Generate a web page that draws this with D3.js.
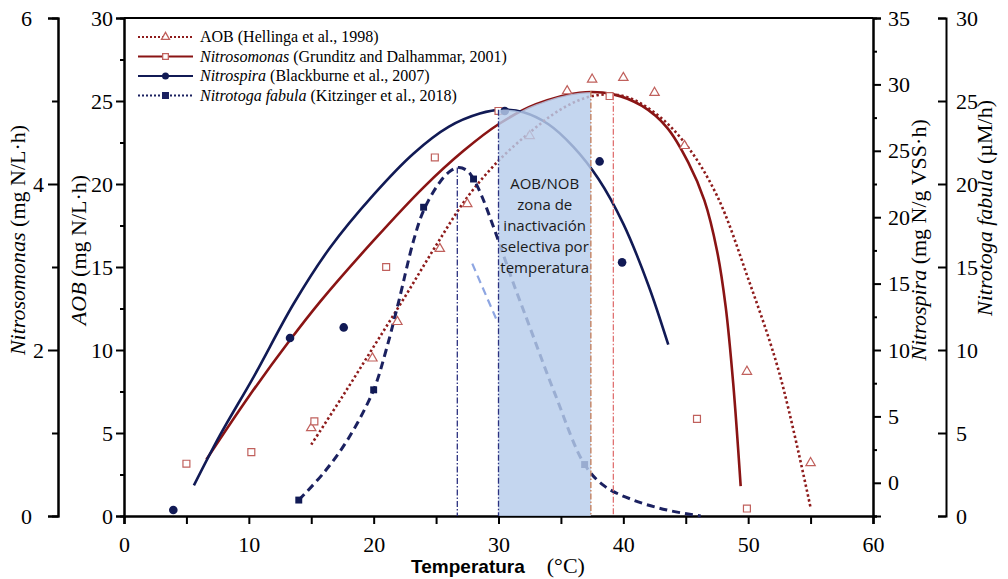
<!DOCTYPE html>
<html>
<head>
<meta charset="utf-8">
<script src="https://cdn.jsdelivr.net/npm/d3@7"></script>
<style>
body { margin: 0; background: #fff; }
svg { display: block; }
text { font-family: "Liberation Serif", "Times New Roman", serif; }
</style>
</head>
<body>
<svg width="1008" height="579"></svg>
<script>
// temperature (°C) vs activity, four organisms, each on its own axis

// AOB (Hellinga 1998) - AOB axis
const aobTemp = [15.0, 19.9, 21.9, 25.3, 27.5, 32.5, 35.5, 37.5, 40.0, 42.5, 44.9, 49.9, 55.0];
const aobRate = [5.3, 9.5, 11.7, 16.1, 18.8, 22.9, 25.6, 26.3, 26.4, 25.5, 22.3, 8.7, 3.2];
const aobFit = [[15,4.3],[17.5,7.2],[20,10.2],[22.5,13.2],[25,16.3],[27.5,19.2],[30,21.4],[32.5,23.1],[35,24.5],[37.5,25.3],[40,25.3],[42.5,24.3],[45,22.4],[47.5,19.3],[50,14.3],[52.5,8.6],[55,0.5]];

// Nitrosomonas (Grunditz & Dalhammar 2001) - mg N/L·h
const nsmTemp = [5.0, 10.2, 15.25, 21.0, 24.9, 30.0, 38.9, 45.9, 49.9];
const nsmRate = [0.63, 0.77, 1.14, 3.0, 4.32, 4.88, 5.06, 1.17, 0.09];
const nsmFit = [[6.6,0.68],[10,1.44],[13.3,2.12],[15.7,2.58],[20,3.32],[24,3.96],[27.2,4.4],[30,4.72],[33,4.96],[36.5,5.1],[39.2,5.08],[41.5,4.94],[43.5,4.68],[45.2,4.26],[46.5,3.8],[47.5,3.2],[48.2,2.52],[48.8,1.6],[49.4,0.36]];

// Nitrospira (Blackburne 2007) - mg N/g VSS·h
const nspTemp = [3.95, 13.3, 17.6, 30.5, 38.1, 39.9];
const nspRate = [-2.05, 10.9, 11.7, 28.0, 24.2, 16.6];
const nspFit = [[5.6,-0.2],[7.7,3.6],[10.4,8.0],[13.6,13.5],[16.5,17.7],[20,21.7],[23.2,24.8],[26,26.8],[28.5,27.8],[30.3,28.1],[32,27.9],[34,27.0],[36,25.3],[38,22.9],[40,19.5],[42,14.9],[43.6,10.4]];

// Nitrotoga fabula (Kitzinger 2018) - µM/h
const ntgTemp = [14.0, 20.0, 24.0, 28.0, 36.9];
const ntgRate = [0.96, 7.6, 18.6, 20.3, 3.1];
const ntgFit = [[14,0.96],[16,2.6],[18,4.7],[20,7.6],[21,10.0],[22,12.9],[23.2,16.6],[24,18.4],[25.1,19.9],[26,20.7],[26.8,21.0],[27.5,20.8],[28,20.3],[28.7,19.2],[29.7,17.2],[31.3,13.8],[32.3,11.8],[34.5,7.4],[36.9,3.1],[38.5,1.8],[40.8,0.96],[43.5,0.36],[46.2,0.0]];
const ntgGhost = [[27.9,15.2],[29.8,11.9]];

// optimum temperature markers
const optT = [26.7, 30, 37.4, 39.2];
const optTop = [21.0, 28.1, 25.6, 25.4];
const optAxis = ["ntg", "nsp", "aob", "aob"];
const optColor = ["#2b3180", "#2b3180", "#c27a55", "#e07272"];

const shadeRange = [30, 37.4];
const shadeText = ["AOB/NOB", "zona de", "inactivación", "selectiva por", "temperatura"];

const xTicks = [0, 10, 20, 30, 40, 50, 60];
const xMinor = [5, 15, 25, 35, 45, 55];

const svg = d3.select("svg");
const yTop = 18, yBottom = 516;

const x = d3.scaleLinear().domain([0, 60]).range([124, 873]);
const yAob = d3.scaleLinear().domain([0, 30]).range([yBottom, yTop]);
const yNsm = d3.scaleLinear().domain([0, 6]).range([yBottom, yTop]);
const yNsp = d3.scaleLinear().domain([-2.5, 35]).range([yBottom, yTop]);
const yNtg = d3.scaleLinear().domain([0, 30]).range([yBottom, yTop]);
const yBy = { aob: yAob, nsm: yNsm, nsp: yNsp, ntg: yNtg };

const red = "#8a1414", redPt = "#c0605c", navy = "#111a55";

function styleAxis(g) {
  g.selectAll("path, line").attr("stroke", "#000").attr("stroke-width", 2);
  g.selectAll("text").attr("font-size", 22).attr("fill", "#000")
    .style("font-family", '"Liberation Serif", serif');
}

// axes
svg.append("g").attr("transform", `translate(0,${yBottom})`)
  .call(d3.axisBottom(x).tickValues(xMinor).tickSize(8).tickFormat(""))
  .call(styleAxis);
svg.append("g").attr("transform", `translate(0,${yBottom})`)
  .call(d3.axisBottom(x).tickValues(xTicks).tickSize(8).tickPadding(12))
  .call(styleAxis);

svg.append("g").attr("transform", "translate(124,0)")
  .call(d3.axisLeft(yAob).tickValues(d3.range(2.5, 30, 5)).tickSize(4).tickFormat(""))
  .call(styleAxis);
svg.append("g").attr("transform", "translate(124,0)")
  .call(d3.axisLeft(yAob).tickValues(d3.range(0, 31, 5)).tickSize(8).tickPadding(3))
  .call(styleAxis);

svg.append("g").attr("transform", "translate(58,0)")
  .call(d3.axisLeft(yNsm).tickValues([1, 3, 5]).tickSize(6).tickFormat(""))
  .call(styleAxis);
svg.append("g").attr("transform", "translate(58,0)")
  .call(d3.axisLeft(yNsm).tickValues([0, 2, 4, 6]).tickSize(10).tickFormat(d3.format("d")))
  .call(styleAxis)
  .call(g => g.selectAll(".tick text").attr("x", d => (d === 2 || d === 4) ? -14 : -26));

svg.append("g").attr("transform", "translate(873,0)")
  .call(d3.axisRight(yNsp).tickValues(d3.range(-2.5, 35, 5)).tickSize(4).tickFormat(""))
  .call(styleAxis);
svg.append("g").attr("transform", "translate(873,0)")
  .call(d3.axisRight(yNsp).tickValues(d3.range(0, 36, 5)).tickSize(8).tickPadding(7))
  .call(styleAxis);

svg.append("g").attr("transform", "translate(946,0)")
  .call(d3.axisRight(yNtg).tickValues(d3.range(0, 31, 5)).tickSize(-8).tickSizeOuter(-8).tickPadding(10))
  .call(styleAxis);

// top frame
svg.append("line").attr("x1", x(0)).attr("x2", x(60)).attr("y1", yTop).attr("y2", yTop)
  .attr("stroke", "#000").attr("stroke-width", 2);

// curves
const lineOf = (yS) => d3.line().x(d => x(d[0])).y(d => yS(d[1])).curve(d3.curveCatmullRom.alpha(0.5));

svg.append("path").datum(nsmFit).attr("d", lineOf(yNsm))
  .attr("fill", "none").attr("stroke", red).attr("stroke-width", 2.6);
svg.append("path").datum(nspFit).attr("d", lineOf(yNsp))
  .attr("fill", "none").attr("stroke", navy).attr("stroke-width", 2.6);
svg.append("path").datum(aobFit).attr("d", lineOf(yAob))
  .attr("fill", "none").attr("stroke", "#8e1b1b").attr("stroke-width", 2.6)
  .attr("stroke-dasharray", "2.4,2.6");
svg.append("path").datum(ntgFit).attr("d", lineOf(yNtg))
  .attr("fill", "none").attr("stroke", "#1b2160").attr("stroke-width", 3)
  .attr("stroke-dasharray", "8,5");
svg.append("path").datum(ntgGhost).attr("d", lineOf(yNtg))
  .attr("fill", "none").attr("stroke", "#8ea6e2").attr("stroke-width", 2.2)
  .attr("stroke-dasharray", "8,5");

// data points
const tri = d3.symbol().type(d3.symbolTriangle).size(38);
const sq = d3.symbol().type(d3.symbolSquare).size(48);

svg.append("g").selectAll("path").data(d3.zip(aobTemp, aobRate)).join("path")
  .attr("d", tri).attr("transform", d => `translate(${x(d[0])},${yAob(d[1])})`)
  .attr("fill", "#fff").attr("stroke", redPt).attr("stroke-width", 1.2);
svg.append("g").selectAll("path").data(d3.zip(nsmTemp, nsmRate)).join("path")
  .attr("d", sq).attr("transform", d => `translate(${x(d[0])},${yNsm(d[1])})`)
  .attr("fill", "#fff").attr("stroke", redPt).attr("stroke-width", 1.2);
svg.append("g").selectAll("circle").data(d3.zip(nspTemp, nspRate)).join("circle")
  .attr("cx", d => x(d[0])).attr("cy", d => yNsp(d[1])).attr("r", 4.3)
  .attr("fill", navy);
svg.append("g").selectAll("path").data(d3.zip(ntgTemp, ntgRate)).join("path")
  .attr("d", sq).attr("transform", d => `translate(${x(d[0])},${yNtg(d[1])})`)
  .attr("fill", navy);

// shaded zone, clipped under the upper envelope of the fitted curves
const areaOf = (yS) => d3.area().x(d => x(d[0])).y0(yBottom).y1(d => yS(d[1])).curve(d3.curveCatmullRom.alpha(0.5));
const clip = svg.append("clipPath").attr("id", "envelope");
clip.append("path").datum(nsmFit).attr("d", areaOf(yNsm));
clip.append("path").datum(nspFit).attr("d", areaOf(yNsp));

svg.append("rect")
  .attr("x", x(shadeRange[0])).attr("width", x(shadeRange[1]) - x(shadeRange[0]))
  .attr("y", yTop).attr("height", yBottom - yTop)
  .attr("clip-path", "url(#envelope)")
  .attr("fill", "#b7cdeb").attr("opacity", 0.82);

// optimum verticals
optT.forEach((t, i) => {
  svg.append("line")
    .attr("x1", x(t)).attr("x2", x(t))
    .attr("y1", yBy[optAxis[i]](optTop[i])).attr("y2", yBottom)
    .attr("stroke", optColor[i]).attr("stroke-width", 1.3)
    .attr("stroke-dasharray", "6,2,1.5,2");
});

svg.append("g").selectAll("text").data(shadeText).join("text")
  .attr("x", (x(shadeRange[0]) + x(shadeRange[1])) / 2)
  .attr("y", (d, i) => 189 + i * 21)
  .attr("text-anchor", "middle")
  .style("font-family", '"Open Sans", sans-serif')
  .attr("font-size", 15).attr("fill", "#1a1a1a")
  .text(d => d);

// axis titles
function vTitle(cx, cy, italic, rest) {
  const t = svg.append("text")
    .attr("transform", `translate(${cx},${cy}) rotate(-90)`)
    .attr("text-anchor", "middle").attr("dominant-baseline", "middle")
    .attr("font-size", 22);
  t.append("tspan").attr("font-style", "italic").text(italic);
  t.append("tspan").text(rest);
}
vTitle(20, 240, "Nitrosomonas", " (mg N/L·h)");
vTitle(81, 250, "AOB", " (mg N/L·h)");
vTitle(921, 240, "Nitrospira", " (mg N/g VSS·h)");
vTitle(987, 208, "Nitrotoga fabula", " (µM/h)");

const xt = svg.append("text").attr("x", 498).attr("y", 573).attr("text-anchor", "middle");
xt.append("tspan").style("font-family", '"Liberation Sans", Arial, sans-serif')
  .attr("font-weight", "bold").attr("font-size", 19).text("Temperatura");
xt.append("tspan").attr("font-size", 22).text("\u2002\u2002(°C)");

// legend
const legend = [
  { it: "", txt: "AOB (Hellinga et al., 1998)", color: "#8e1b1b", dash: "2,2", mk: "tri" },
  { it: "Nitrosomonas", txt: " (Grunditz and Dalhammar, 2001)", color: red, dash: null, mk: "sq" },
  { it: "Nitrospira", txt: " (Blackburne et al., 2007)", color: navy, dash: null, mk: "circ" },
  { it: "Nitrotoga fabula", txt: " (Kitzinger et al., 2018)", color: "#1b2160", dash: "2,2", mk: "fsq" }
];
const lg = svg.append("g").selectAll("g").data(legend).join("g")
  .attr("transform", (d, i) => `translate(138,${37 + i * 19.5})`);
lg.append("line").attr("x1", 0).attr("x2", 55)
  .attr("stroke", d => d.color).attr("stroke-width", 2)
  .attr("stroke-dasharray", d => d.dash);
lg.each(function (d) {
  const g = d3.select(this);
  if (d.mk === "circ") g.append("circle").attr("cx", 27.5).attr("r", 3.5).attr("fill", d.color);
  else g.append("path")
    .attr("d", d3.symbol().type(d.mk === "tri" ? d3.symbolTriangle : d3.symbolSquare).size(d.mk === "tri" ? 28 : 32))
    .attr("transform", "translate(27.5,0)")
    .attr("fill", d.mk === "fsq" ? d.color : "#fff")
    .attr("stroke", d.mk === "fsq" ? d.color : redPt).attr("stroke-width", 1.3);
});
const lt = lg.append("text").attr("x", 62).attr("dy", "0.33em").attr("font-size", 16);
lt.append("tspan").attr("font-style", "italic").text(d => d.it);
lt.append("tspan").text(d => d.txt);
</script>
</body>
</html>
